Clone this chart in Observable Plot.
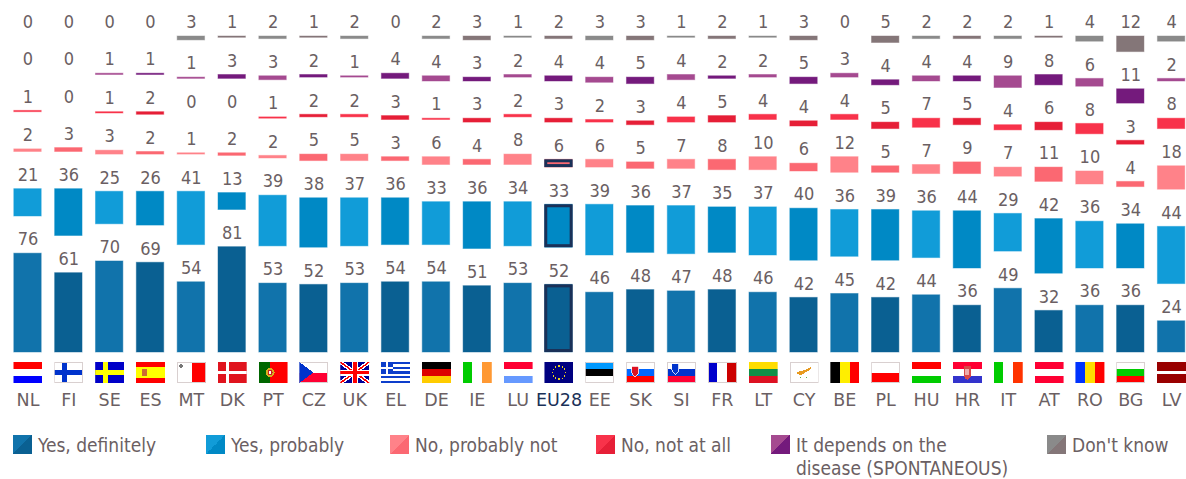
<!DOCTYPE html>
<html><head><meta charset="utf-8">
<script src="https://cdn.jsdelivr.net/npm/d3@7"></script>
<script src="https://cdn.jsdelivr.net/npm/@observablehq/plot@0.6"></script>
<style>
html,body{margin:0;padding:0;background:#fff}
#wrap{position:relative;width:1186px;height:479px;overflow:hidden;font-family:"DejaVu Sans",sans-serif;font-stretch:condensed;color:#6b5f63}
#wrap svg{display:block;background:#fff}
.lg{position:absolute;font-size:19px;line-height:23px;white-space:nowrap}
.sw{position:absolute;width:19px;height:19px}
</style></head><body><div id="wrap"></div>
<script>
const countries = ["NL","FI","SE","ES","MT","DK","PT","CZ","UK","EL","DE","IE","LU","EU28","EE","SK","SI","FR","LT","CY","BE","PL","HU","HR","IT","AT","RO","BG","LV"];
const seriesNames = ["Yes, definitely","Yes, probably","No, probably not","No, not at all","It depends on the disease (SPONTANEOUS)","Don't know"];
const yesDefinitely = [76,61,70,69,54,81,53,52,53,54,54,51,53,52,46,48,47,48,46,42,45,42,44,36,49,32,36,36,24];
const yesProbably   = [21,36,25,26,41,13,39,38,37,36,33,36,34,33,39,36,37,35,37,40,36,39,36,44,29,42,36,34,44];
const noProbably    = [2,3,3,2,1,2,2,5,5,3,6,4,8,6,6,5,7,8,10,6,12,5,7,9,7,11,10,4,18];
const noNotAtAll    = [1,0,1,2,0,0,1,2,2,3,1,3,2,3,2,3,4,5,4,4,4,5,7,5,4,6,8,3,8];
const itDepends     = [0,0,1,1,1,3,3,2,1,4,4,3,2,4,4,5,4,2,2,5,3,4,4,4,9,8,6,11,2];
const dontKnow      = [0,0,0,0,3,1,2,1,2,0,2,3,1,2,3,3,1,2,1,3,0,5,2,2,2,1,4,12,4];
const seriesValues = [yesDefinitely,yesProbably,noProbably,noNotAtAll,itDepends,dontKnow];
const lightColors = ["#1173ab","#119cd8","#ff8289","#f8324a","#a54a90","#8a8a8a"];
const darkColors  = ["#0a6092","#0089c5","#fb6872","#e61f37","#741a7c","#847678"];
const GAP = 28.6, NAVY = "#1a3158", TEXT = "#6b5f63";

const rows = [];
countries.forEach((c,i)=>{
  let cum = 0;
  seriesValues.forEach((vals,s)=>{
    const v = vals[i];
    rows.push({country:c,series:s,value:v,y1:cum+s*GAP,y2:cum+v+s*GAP,
      color:(i%2?darkColors:lightColors)[s]});
    cum += v;
  });
});

// flags
const h=(...c)=>{const n=c.length;return c.map((k,i)=>`<rect y="${i*21/n}" width="29" height="${21/n+.1}" fill="${k}"/>`).join("")};
const v=(...c)=>{const n=c.length;return c.map((k,i)=>`<rect x="${i*29/n}" width="${29/n+.1}" height="21" fill="${k}"/>`).join("")};
const cross=(bg,fg)=>`<rect width="29" height="21" fill="${bg}"/><rect x="8" width="5" height="21" fill="${fg}"/><rect y="8" width="29" height="5" fill="${fg}"/>`;
const B=`<rect x=".5" y=".5" width="28" height="20" fill="none" stroke="#d9d0d0"/>`;
const shield=(x,y,c)=>`<path d="M${x} ${y}h7v6q0 3-3.5 5q-3.5-2-3.5-5z" fill="${c}" stroke="#fff" stroke-width=".8"/>`;
const stars=Array.from({length:12},(_,i)=>{const a=i*Math.PI/6;return `<circle cx="${14.5+6.6*Math.cos(a)}" cy="${10.5+6.6*Math.sin(a)}" r=".8" fill="#e8d020"/>`}).join("");
const flagSvg={
 NL:h("#ff0000","#fff","#0000ff"),
 FI:cross("#fff","#0033cc")+B,
 SE:cross("#0000c8","#ffff00"),
 ES:`<rect width="29" height="21" fill="#ff0000"/><rect y="5" width="29" height="11" fill="#ffff00"/><rect x="6" y="7" width="5" height="7" fill="#cc6a33"/>`,
 MT:`<rect width="29" height="21" fill="#fff"/><rect x="15" width="14" height="21" fill="#ff0000"/><path d="M4 2v4M2 4h4" stroke="#777" stroke-width="1.5"/>`+B,
 DK:`<rect width="29" height="21" fill="#e0141e"/><rect x="8" width="3" height="21" fill="#fff"/><rect y="9" width="29" height="3" fill="#fff"/>`,
 PT:`<rect width="29" height="21" fill="#ff0000"/><rect width="11.5" height="21" fill="#006600"/><circle cx="11.5" cy="10.5" r="4.5" fill="#d8b020"/><circle cx="11.5" cy="10.5" r="2.5" fill="#cc2222"/><circle cx="11.5" cy="10.5" r="1.2" fill="#fff"/>`,
 CZ:h("#fff","#ff0033")+B+`<path d="M0 0L14 10.5L0 21z" fill="#0033cc"/>`,
 UK:`<rect width="29" height="21" fill="#000099"/><path d="M0 0L29 21M29 0L0 21" stroke="#fff" stroke-width="4"/><path d="M0 0L29 21M29 0L0 21" stroke="#ff0000" stroke-width="1.5"/><path d="M14.5 0V21M0 10.5H29" stroke="#fff" stroke-width="6"/><path d="M14.5 0V21M0 10.5H29" stroke="#ff0000" stroke-width="3.6"/>`,
 EL:h("#0d3ecb","#fff","#0d3ecb","#fff","#0d3ecb","#fff","#0d3ecb","#fff","#0d3ecb")+`<rect width="11.5" height="11.6" fill="#0d3ecb"/><rect x="4.5" width="2.5" height="11.6" fill="#fff"/><rect y="4.6" width="11.5" height="2.4" fill="#fff"/>`,
 DE:h("#000","#dd0000","#ffcc00"),
 IE:v("#00cc00","#fff","#ff9933"),
 LU:h("#ff0033","#fff","#6699ff"),
 EU28:`<rect width="29" height="21" fill="#000080"/>`+stars,
 EE:h("#0099ff","#000","#fff")+B,
 SK:h("#fff","#0066ff","#ff0000")+B+shield(5.5,4,"#dd1122"),
 SI:h("#fff","#0033cc","#ff0033")+B+shield(5,1.5,"#0033cc"),
 FR:v("#0000cc","#fff","#cc0000")+B,
 LT:h("#ffdd00","#109048","#dd1122"),
 CY:`<rect width="29" height="21" fill="#fff"/><path d="M6 11l5-2l5-1l7-4l-3 4l-5 3l-4 2z" fill="#e89a20"/><path d="M9 14q5 5 10 0q-4 2.5-5 2.5q-2 0-5-2.5z" fill="#58b050"/>`+B,
 BE:v("#000","#ffee00","#ff0000"),
 PL:h("#fff","#ff0000")+B,
 HU:h("#ff0000","#fff","#00cc00"),
 HR:h("#ff0033","#fff","#3333cc")+`<path d="M11 4h7v9q0 3-3.5 5q-3.5-2-3.5-5z" fill="#d84848"/><rect x="12.5" y="7" width="4" height="6" fill="#fff" opacity=".55"/>`,
 IT:v("#00cc00","#fff","#ff3300"),
 AT:h("#ff0033","#fff","#ff0033"),
 RO:v("#0033ff","#ffdd00","#ff0000"),
 BG:h("#fff","#00cc00","#ff0000")+B,
 LV:`<rect width="29" height="21" fill="#990000"/><rect y="9" width="29" height="3" fill="#fff"/>`
};
const flagUrl=c=>"data:image/svg+xml,"+encodeURIComponent(`<svg xmlns="http://www.w3.org/2000/svg" width="29" height="21" viewBox="0 0 29 21" shape-rendering="crispEdges">${flagSvg[c]}</svg>`);

const yTop = 100+5*GAP;
const euRows = rows.filter(d=>d.country==="EU28"&&d.series<3);
const barOpts = {x:"country",y1:"y1",y2:"y2"};
const chart = Plot.plot({
  width:1186,height:415,marginTop:0,marginRight:0,marginBottom:30,marginLeft:0,
  style:{fontFamily:'"DejaVu Sans",sans-serif',fontStretch:"normal",background:"#fff"},
  x:{domain:countries,range:[13.3,1185.3],paddingInner:0.305,paddingOuter:0,align:0,round:false,axis:null},
  y:{domain:[0,yTop],range:[352,36],axis:null},
  color:{type:"identity"},
  marks:[
    Plot.barY(rows,{...barOpts,fill:"color",stroke:"color",strokeWidth:1,strokeOpacity:0.45,insetLeft:0.5,insetRight:0.5}),
    Plot.barY(euRows,{...barOpts,fill:NAVY}),
    Plot.barY(euRows,{...barOpts,fill:"color",inset:3}),
    Plot.text(rows,{x:"country",y:"y2",text:d=>String(d.value),dy:-14,fontSize:18,fill:TEXT,lineAnchor:"middle",fontFamily:'"DejaVu Sans Condensed","DejaVu Sans",sans-serif'}),
    Plot.image(countries,{x:d=>d,y:-15.4,src:flagUrl,width:29,height:21}),
    Plot.axisX({anchor:"bottom",tickSize:0,tickPadding:8,fontSize:17.5,fill:d=>d==="EU28"?NAVY:TEXT,label:null})
  ]
});
const wrap=document.getElementById("wrap");
wrap.appendChild(chart);

const legendX=[13,206,390,596,771,1047];
seriesNames.forEach((n,s)=>{
  const sw=document.createElement("div");sw.className="sw";
  sw.style.left=legendX[s]+"px";sw.style.top="435px";
  sw.style.background=`linear-gradient(to bottom right,${lightColors[s]} 50%,${darkColors[s]} 50%)`;
  wrap.appendChild(sw);
  const t=document.createElement("div");t.className="lg";
  t.style.left=(legendX[s]+25)+"px";t.style.top="434px";
  t.innerHTML=s===4?"It depends on the<br>disease (SPONTANEOUS)":n;
  wrap.appendChild(t);
});
</script></body></html>
